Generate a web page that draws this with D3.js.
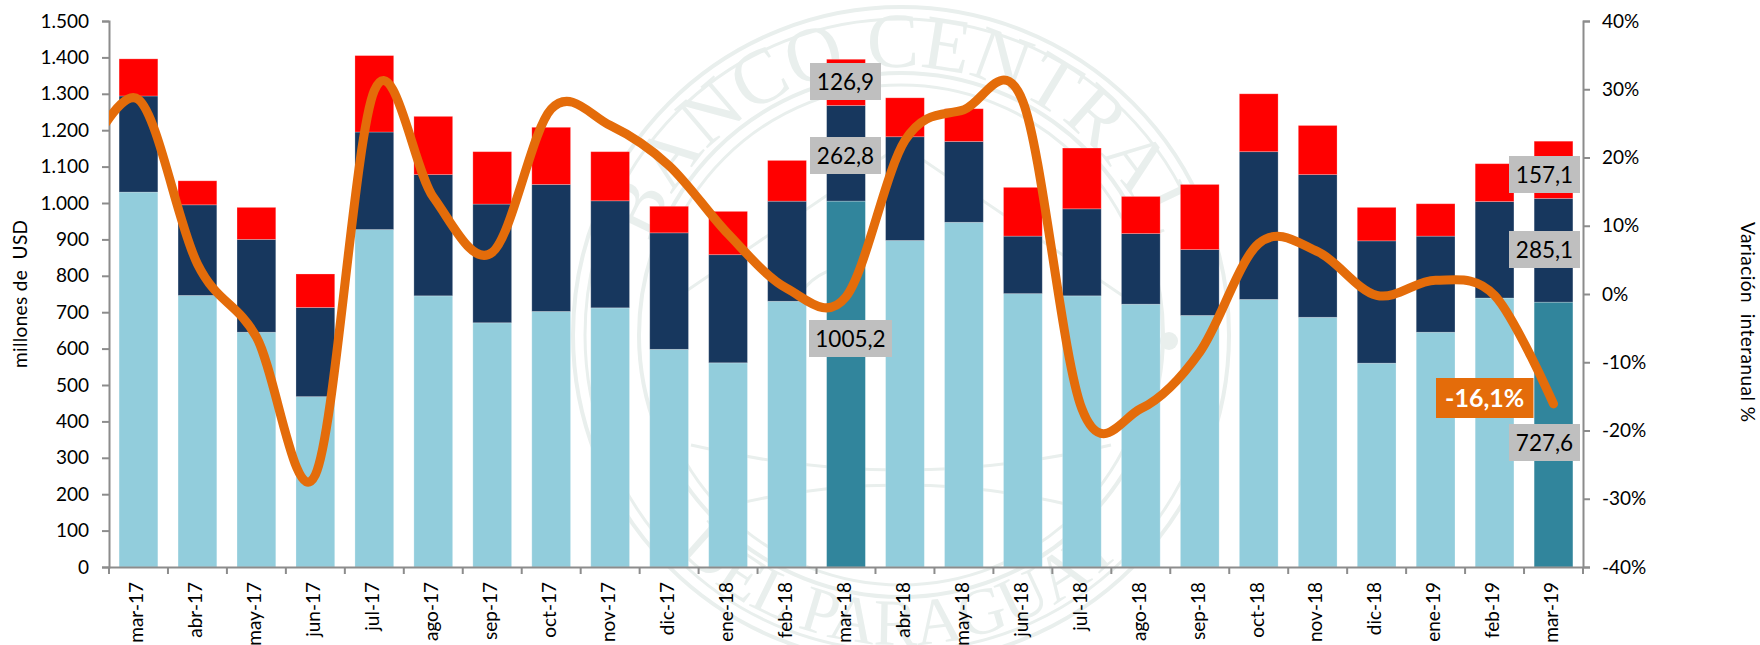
<!DOCTYPE html>
<html lang="es"><head><meta charset="utf-8">
<script src="https://cdn.jsdelivr.net/npm/d3@7/dist/d3.min.js"></script>
<style>
html,body{margin:0;padding:0;background:#fff}
svg{display:block}
text{font-family:Lato,"Open Sans",sans-serif;fill:#000}
</style></head><body><div id="chart"></div>
<script>
const categories=["mar-17","abr-17","may-17","jun-17","jul-17","ago-17","sep-17","oct-17","nov-17","dic-17","ene-18","feb-18","mar-18","abr-18","may-18","jun-18","jul-18","ago-18","sep-18","oct-18","nov-18","dic-18","ene-19","feb-19","mar-19"];
const baseValues=[1030,746,645,468,927,745,671,702,712,598,561,730,1005.2,897,947,751,745,722,691,735,686,560,645,739,727.6];
const midValues=[264,249,255,245,268,333,326,349,294,320,297,275,262.8,285,222,158,239,194,181,406,392,336,264,265,285.1];
const topValues=[102,66,88,92,210,160,144,157,135,73,119,112,126.9,107,90,134,167,102,179,159,135,92,89,104,157.1];
const variation=[28.5,4.4,-6.3,-26.5,29.8,14.2,6.1,27.1,24.7,18.8,8.8,0.8,-0.4,22.5,27,28.2,-16.8,-16.8,-8.5,7.4,6.2,-0.2,2,-0.2,-16.1];
const variationBefore=18; // point left of the plot, only its tail is visible
const leftTicks=d3.range(0,1501,100);
const rightTicks=d3.range(-40,41,10);
const highlighted=["mar-18","mar-19"];
const colors={base:"#92CDDC",mid:"#17375E",top:"#FF0000",hi:"#31859C",line:"#E46C0A",axis:"#8C8C8C",box:"#BFBFBF",seal:"#E9EFED"};

const W=1760,H=645,L=109,R=1583,T=21,B=567;
const svg=d3.select("#chart").append("svg").attr("width",W).attr("height",H);
const x=d3.scaleBand().domain(categories).range([L,R]).paddingInner(20.2/58.96).paddingOuter(10.1/58.96);
const xPos=d3.scaleLinear().domain([0,categories.length-1]).range([x(categories[0])+x.bandwidth()/2,x(categories[categories.length-1])+x.bandwidth()/2]);
const y=d3.scaleLinear().domain([0,1500]).range([B,T]);
const y2=d3.scaleLinear().domain([-40,40]).range([B,T]);

/* watermark seal */
const seal=svg.append("g").attr("transform","translate(901,335)");
[[328,4],[316,3],[262,4],[250,3]].forEach(([r,w])=>seal.append("circle").attr("r",r).attr("fill","none").attr("stroke",colors.seal).attr("stroke-width",w));
const defs=svg.append("defs");
const arcPath=(r,a0,a1,ccw)=>{const p=d3.path();p.arc(0,0,r,a0,a1,ccw);return p.toString()};
const sweepTop=75*Math.PI/180,sweepBot=50*Math.PI/180;
defs.append("path").attr("id","arcTop").attr("d",arcPath(268,-Math.PI/2-sweepTop,-Math.PI/2+sweepTop,false));
defs.append("path").attr("id","arcBot").attr("d",arcPath(310,Math.PI/2+sweepBot,Math.PI/2-sweepBot,true));
const sealText=(id,t,size)=>seal.append("text").style("font-family","'Liberation Serif',serif").style("fill",colors.seal).attr("font-size",size)
  .append("textPath").attr("href","#"+id).attr("startOffset","50%").attr("text-anchor","middle").text(t);
sealText("arcTop","BANCO CENTRAL",78);
sealText("arcBot","DEL PARAGUAY",66);
seal.append("path").attr("fill","none").attr("stroke",colors.seal).attr("stroke-width",3)
  .attr("d","M-250,-20L0,-190L250,-20M-170,-40V170M170,-40V170M-210,110Q0,160 210,110M-190,175Q0,125 190,175M-120,40Q-120,-70 -40,-70V130M60,-110V160");
seal.append("circle").attr("cx",268).attr("cy",6).attr("r",9).attr("fill",colors.seal);

/* stacked bars */
const stack=d3.stack().keys(["base","mid","top"])(categories.map((c,i)=>({c,base:baseValues[i],mid:midValues[i],top:topValues[i]})));
svg.append("g").selectAll("g").data(stack).join("g").each(function(s){
  d3.select(this).selectAll("rect").data(s).join("rect")
    .attr("x",d=>x(d.data.c)).attr("width",x.bandwidth())
    .attr("y",d=>y(d[1])).attr("height",d=>y(d[0])-y(d[1]))
    .attr("fill",d=>s.key==="base"&&highlighted.includes(d.data.c)?colors.hi:colors[s.key])
    .attr("stroke","#fff").attr("stroke-opacity",0.3).attr("stroke-width",0.8);
});

/* axes */
const styleAxis=g=>{g.selectAll("path,line").attr("stroke",colors.axis).attr("stroke-width",2);g.selectAll("text").attr("font-size",19).attr("fill","#000")};
svg.append("g").attr("transform",`translate(${L},0)`)
  .call(d3.axisLeft(y).tickValues(leftTicks).tickSize(7).tickSizeOuter(7).tickPadding(13).tickFormat(d=>d3.format(",")(d).replace(",","."))).call(styleAxis);
svg.append("g").attr("transform",`translate(${R},0)`)
  .call(d3.axisRight(y2).tickValues(rightTicks).tickSize(7).tickSizeOuter(7).tickPadding(12).tickFormat(d=>d+"%")).call(styleAxis);
const xAxis=d3.axisBottom(x).tickSize(0).tickPadding(0);
const gx=svg.append("g").attr("transform",`translate(0,${B})`).call(xAxis);
gx.selectAll("path").attr("stroke",colors.axis).attr("stroke-width",2);
gx.selectAll("text").attr("font-size",19).attr("fill","#000").attr("text-anchor","end").attr("dy",0)
  .attr("y",0).attr("x",0).attr("transform","translate(0,15) rotate(-90)").attr("dominant-baseline","middle");
const step=x.step();
svg.append("g").selectAll("line").data(d3.range(categories.length+1)).join("line")
  .attr("x1",i=>L+i*step).attr("x2",i=>L+i*step).attr("y1",B).attr("y2",B+7).attr("stroke",colors.axis).attr("stroke-width",2);

/* variation line */
defs.append("clipPath").attr("id","plot").append("rect").attr("x",L).attr("y",0).attr("width",W-L).attr("height",H);
const pts=[[-1,variationBefore],...variation.map((v,i)=>[i,v])];
svg.append("path").attr("clip-path","url(#plot)")
  .attr("d",d3.line().x(d=>xPos(d[0])).y(d=>y2(d[1])).curve(d3.curveCatmullRom.alpha(0))(pts))
  .attr("fill","none").attr("stroke",colors.line).attr("stroke-width",9).attr("stroke-linecap","round").attr("stroke-linejoin","round");

/* value labels */
const fmt=v=>String(v).replace(".",",");
const i18=categories.indexOf("mar-18"),i19=categories.indexOf("mar-19");
const labels=[
 {t:fmt(topValues[i18]),x0:810,x1:881,y0:63,y1:100},
 {t:fmt(midValues[i18]),x0:810,x1:881,y0:137,y1:174},
 {t:fmt(baseValues[i18]),x0:809,x1:892,y0:320,y1:357},
 {t:fmt(topValues[i19]),x0:1509,x1:1580,y0:156,y1:193},
 {t:fmt(midValues[i19]),x0:1509,x1:1580,y0:231,y1:268},
 {t:fmt(baseValues[i19]),x0:1509,x1:1580,y0:424,y1:461},
];
labels.forEach(l=>{
  svg.append("rect").attr("x",l.x0).attr("y",l.y0).attr("width",l.x1-l.x0).attr("height",l.y1-l.y0).attr("fill",colors.box);
  svg.append("text").attr("x",(l.x0+l.x1)/2).attr("y",(l.y0+l.y1)/2+8).attr("text-anchor","middle").attr("font-size",22.5).text(l.t);
});
svg.append("rect").attr("x",1436).attr("y",378).attr("width",97.5).attr("height",40).attr("fill",colors.line);
svg.append("text").attr("x",1484.7).attr("y",407).attr("text-anchor","middle").attr("font-size",25).attr("font-weight",700).style("fill","#fff").text(fmt(variation[i19])+"%");

/* axis titles */
svg.append("text").attr("transform","translate(27,294) rotate(-90)").attr("text-anchor","middle").attr("font-size",19).attr("textLength",148).style("white-space","pre").text("millones de  USD");
svg.append("text").attr("transform","translate(1741,322) rotate(90)").attr("text-anchor","middle").attr("font-size",19).attr("textLength",200).style("white-space","pre").text("Variación  interanual %");
</script></body></html>
